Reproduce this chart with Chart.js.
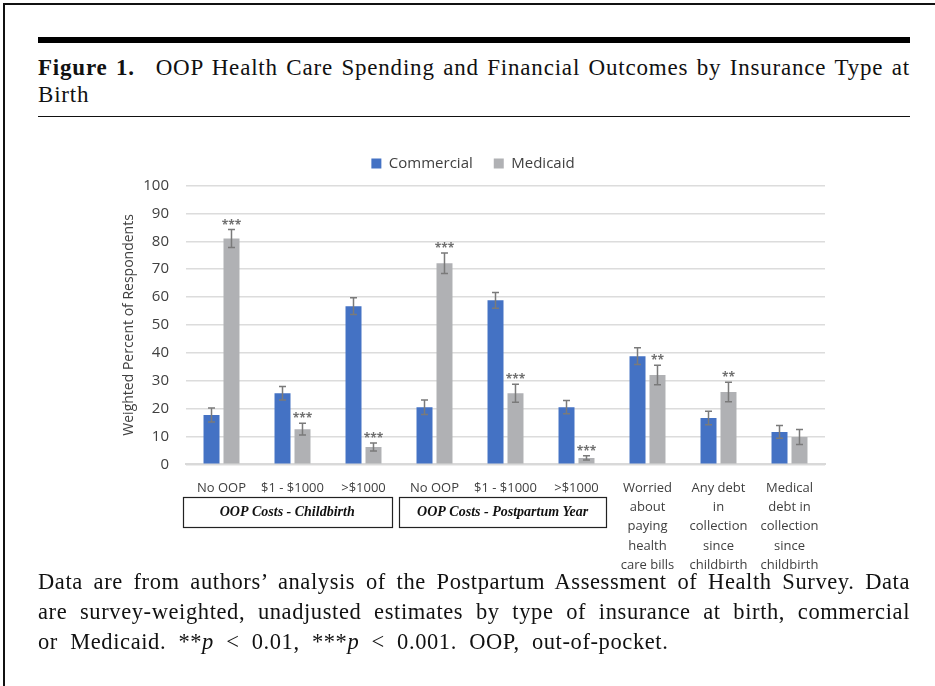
<!DOCTYPE html>
<html>
<head>
<meta charset="utf-8">
<script src="https://cdn.jsdelivr.net/npm/chart.js@4.4.1/dist/chart.umd.min.js"></script>
<style>
  html, body { margin:0; padding:0; background:#fff; }
  body { width:935px; height:686px; position:relative; overflow:hidden; }
  .frame { position:absolute; left:3px; top:3px; width:1000px; height:1000px; border-left:2.5px solid #111; border-top:2.5px solid #111; }
  .rule-thick { position:absolute; left:38px; top:37px; width:872px; height:6px; background:#000; }
  .rule-thin { position:absolute; left:38px; top:115.5px; width:872px; height:1.5px; background:#111; }
  .serif { font-family:"Liberation Serif", "Times New Roman", serif; color:#111; }
  .title { position:absolute; left:38px; top:54px; width:872px; font-size:23px; line-height:27px; letter-spacing:0.8px; }
  .caption { position:absolute; left:38px; top:567px; width:872px; font-size:22.5px; line-height:30px; letter-spacing:0.6px; }
  .just2 { text-align:justify; text-align-last:justify; white-space:nowrap; }
  .wide { word-spacing:6px; }
  canvas { position:absolute; left:0; top:0; }
</style>
</head>
<body>
<div class="frame"></div>
<div class="rule-thick"></div>
<div class="title serif">
  <div class="just2"><b>Figure 1.</b>&ensp; OOP Health Care Spending and Financial Outcomes by Insurance Type at</div>
  <div>Birth</div>
</div>
<div class="rule-thin"></div>
<canvas id="c" width="935" height="686"></canvas>
<div class="caption serif">
  <div class="just2">Data are from authors’ analysis of the Postpartum Assessment of Health Survey. Data</div>
  <div class="just2">are survey-weighted, unadjusted estimates by type of insurance at birth, commercial</div>
  <div class="wide">or Medicaid. **<i>p</i> &lt; 0.01, ***<i>p</i> &lt; 0.001. OOP, out-of-pocket.</div>
</div>
<script>
const categories = [
  'No OOP', '$1 - $1000', '>$1000',
  'No OOP', '$1 - $1000', '>$1000',
  ['Worried', 'about', 'paying', 'health', 'care bills'],
  ['Any debt', 'in', 'collection', 'since', 'childbirth'],
  ['Medical', 'debt in', 'collection', 'since', 'childbirth']
];
const seriesNames = ['Commercial', 'Medicaid'];
const commercial    = [17.7, 25.5, 56.7, 20.5, 58.8, 20.5, 38.8, 16.6, 11.6];
const commercialErr = [2.5, 2.4, 3.0, 2.6, 2.8, 2.4, 3.0, 2.4, 2.3];
const medicaid      = [81.0, 12.6, 6.2, 72.1, 25.5, 2.3, 32.0, 25.9, 9.8];
const medicaidErr   = [3.2, 2.1, 1.4, 3.7, 3.2, 0.8, 3.5, 3.5, 2.7];
const significance  = ['***', '***', '***', '***', '***', '***', '**', '**', ''];
const groupLabels   = ['OOP Costs - Childbirth', 'OOP Costs - Postpartum Year'];
const groupRanges   = [[0, 2], [3, 5]];
const yTicks = { min: 0, max: 100, step: 10 };

const FONT = '"Open Sans", "Noto Sans", sans-serif';
const TXT = '#404040';

const legendFit = {
  id: 'legendFit',
  beforeInit(chart) {
    const orig = chart.legend.fit;
    chart.legend.fit = function () { orig.call(this); this.height = 50.5; };
  }
};

const annot = {
  id: 'annot',
  afterDatasetsDraw(chart) {
    const ctx = chart.ctx;
    const y = chart.scales.y;
    const x = chart.scales.x;
    ctx.save();
    [[commercial, commercialErr], [medicaid, medicaidErr]].forEach((pair, di) => {
      const meta = chart.getDatasetMeta(di);
      meta.data.forEach((bar, i) => {
        const v = pair[0][i], e = pair[1][i];
        const top = y.getPixelForValue(v + e);
        const bot = y.getPixelForValue(v - e);
        ctx.strokeStyle = '#7a7a7a';
        ctx.lineWidth = 1.5;
        ctx.beginPath();
        ctx.moveTo(bar.x, top); ctx.lineTo(bar.x, bot);
        ctx.moveTo(bar.x - 3.5, top); ctx.lineTo(bar.x + 3.5, top);
        ctx.moveTo(bar.x - 3.5, bot); ctx.lineTo(bar.x + 3.5, bot);
        ctx.stroke();
      });
    });
    const mmeta = chart.getDatasetMeta(1);
    ctx.fillStyle = '#707070';
    ctx.font = 'bold 12px ' + FONT;
    ctx.textAlign = 'center';
    ctx.textBaseline = 'alphabetic';
    significance.forEach((s, i) => {
      if (!s) return;
      const bar = mmeta.data[i];
      const top = y.getPixelForValue(medicaid[i] + medicaidErr[i]);
      ctx.fillText(s, bar.x, top - 1);
    });
    const cw = x.getPixelForValue(1) - x.getPixelForValue(0);
    const offs = [[-0.545, 0.395], [-0.50, 0.42]];
    ctx.strokeStyle = '#222';
    ctx.lineWidth = 1.2;
    ctx.fillStyle = '#111';
    ctx.font = 'italic bold 14px "Liberation Serif", "Times New Roman", serif';
    ctx.textBaseline = 'middle';
    groupRanges.forEach((r, gi) => {
      const l = x.getPixelForValue(r[0]) + offs[gi][0] * cw;
      const rr = x.getPixelForValue(r[1]) + offs[gi][1] * cw;
      const t = 497, h = 30;
      ctx.strokeRect(Math.round(l) + 0.5, t + 0.5, Math.round(rr - l), h);
      ctx.fillText(groupLabels[gi], (l + rr) / 2, t + h / 2 + 0.5);
    });
    ctx.restore();
  }
};

new Chart(document.getElementById('c'), {
  type: 'bar',
  data: {
    labels: categories,
    datasets: [
      { label: seriesNames[0], data: commercial, backgroundColor: '#4472C4', categoryPercentage: 0.563, barPercentage: 0.8 },
      { label: seriesNames[1], data: medicaid, backgroundColor: '#B0B1B4', categoryPercentage: 0.563, barPercentage: 0.8 }
    ]
  },
  options: {
    responsive: false,
    animation: false,
    devicePixelRatio: 1,
    layout: { padding: { left: 121, right: 110, top: 135, bottom: 0 } },
    plugins: {
      legend: {
        position: 'top',
        labels: { boxWidth: 10, boxHeight: 10, padding: 21, color: TXT, font: { family: FONT, size: 15 } }
      },
      tooltip: { enabled: false }
    },
    scales: {
      x: {
        grid: { display: false, drawTicks: false },
        border: { display: true, color: '#d9d9d9', width: 2 },
        ticks: { color: TXT, font: { family: FONT, size: 13, lineHeight: 1.485 }, padding: 14, maxRotation: 0, autoSkip: false },
        afterFit(s) { s.height = 221.7; }
      },
      y: {
        min: yTicks.min, max: yTicks.max,
        ticks: { stepSize: yTicks.step, color: TXT, font: { family: FONT, size: 15 }, padding: 17 },
        grid: { color: '#dcdcdc', lineWidth: 1.5, drawTicks: false },
        border: { display: false },
        title: { display: true, text: 'Weighted Percent of Respondents', color: TXT, font: { family: FONT, size: 14 }, padding: 0 },
        afterFit(s) { s.width = 65; }
      }
    }
  },
  plugins: [legendFit, annot]
});
</script>
</body>
</html>
